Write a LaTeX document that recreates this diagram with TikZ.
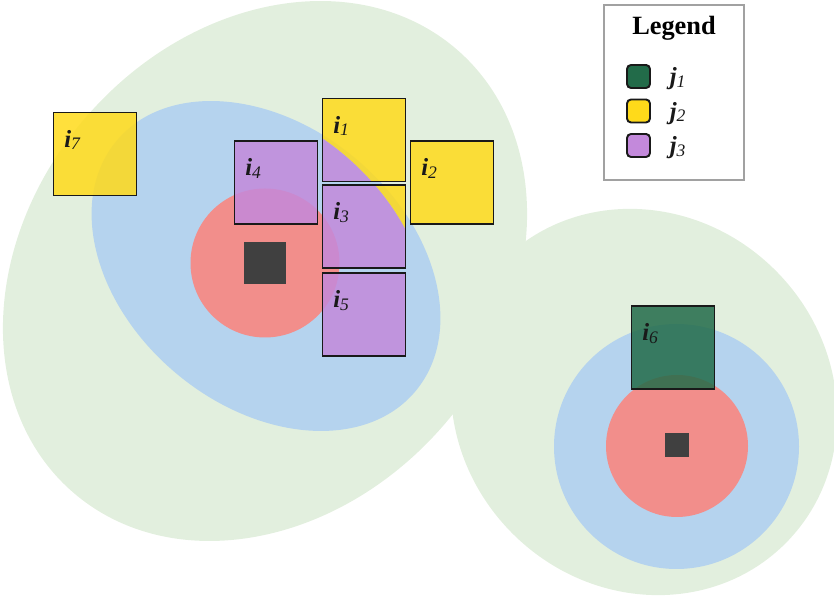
\documentclass[tikz,border=0pt]{standalone}
\usepackage{fontspec}
\setmainfont{Liberation Serif}
\usetikzlibrary{positioning}

\definecolor{zonegreen}{HTML}{E2EFDE}
\definecolor{zoneblue}{HTML}{B5D3EE}
\definecolor{zonered}{HTML}{F28E8B}
\definecolor{sitegray}{HTML}{404040}
\definecolor{jone}{HTML}{226B49}
\definecolor{jtwo}{HTML}{FFDA1A}
\definecolor{jthree}{HTML}{C389DB}

\newcommand{\itm}[1]{{\fontsize{14}{16}\selectfont\bfseries\itshape i}\raisebox{-1.2pt}{\fontsize{10}{12}\selectfont\itshape #1}}
\newcommand{\jcl}[1]{{\fontsize{14}{16}\selectfont\bfseries\itshape j}\raisebox{-1.2pt}{\fontsize{10}{12}\selectfont\itshape #1}}

\begin{document}
\begin{tikzpicture}[
    itembox/.style={rectangle, minimum size=1.66cm, inner sep=0pt, outer sep=0pt},
    boxline/.style={line width=1.1pt, draw=black!90},
    itemlabel/.style={anchor=base west, inner sep=0pt, text=black!90},
    swatch/.style={rectangle, rounded corners=0.08cm, minimum size=0.46cm, inner sep=0pt, draw=black!90, line width=1.1pt},
    site/.style={rectangle, inner sep=0pt, fill=sitegray}
]
    \useasboundingbox (0,0) rectangle (16.68,11.96);

    % Coverage zones
    \fill[zonegreen, rotate around={49:(5.30,6.54)}] (5.30,6.54) ellipse [x radius=5.86, y radius=4.72];
    \fill[zonegreen, rotate around={-45:(12.88,3.92)}] (12.88,3.92) ellipse [x radius=4.0, y radius=3.72];
    \fill[zoneblue, rotate around={-40:(5.32,6.64)}] (5.32,6.64) ellipse [x radius=3.90, y radius=2.80];
    \fill[zoneblue] (13.53,3.03) circle (2.45);
    \fill[zonered] (5.30,6.70) circle (1.49);
    \fill[zonered] (13.54,3.04) circle (1.42);

    % Sites
    \node[site, minimum size=0.83cm] (s1) at (5.30,6.70) {};
    \node[site, minimum size=0.49cm] (s2) at (13.54,3.06) {};

    % Items split between j2 and j3
    \node[itembox] (i1) at (7.28,9.16) {};
    \node[itembox] (i3) at (7.28,7.43) {};
    \node[itembox] (i4) at (5.52,8.31) {};
    \node[itembox] (i5) at (7.28,5.67) {};
    \begin{scope}
        \clip (i1.south west) rectangle (i1.north east)
              (i3.south west) rectangle (i3.north east)
              (i4.south west) rectangle (i4.north east)
              (i5.south west) rectangle (i5.north east);
        \fill[jtwo, fill opacity=.85, even odd rule, rotate around={-40:(5.08,6.72)}]
            (5.08,6.72) ellipse [x radius=3.90, y radius=2.80]
            (-2,-2) rectangle (14,14);
        \fill[jthree, fill opacity=.85, rotate around={-40:(5.08,6.72)}]
            (5.08,6.72) ellipse [x radius=3.90, y radius=2.80];
    \end{scope}
    \foreach \n in {1,3,4,5}
        \draw[boxline] (i\n.south west) rectangle (i\n.north east);

    % Other items
    \node[itembox, boxline, fill=jtwo, fill opacity=.85] (i2) at (9.04,8.31) {};
    \node[itembox, boxline, fill=jtwo, fill opacity=.85] (i7) at (1.90,8.88) {};
    \node[itembox, boxline, fill=jone, fill opacity=.85] (i6) at (13.46,5.01) {};

    % Item labels
    \foreach \n in {1,...,7}
        \node[itemlabel] (t\n) at ([shift={(0.21,-0.70)}]i\n.north west) {\itm{\n}};

    % Legend
    \node[rectangle, draw=black!37, line width=0.6pt, fill=white, minimum width=2.80cm, minimum height=3.50cm] (legend) at (13.48,10.11) {};
    \node[font=\fontsize{15}{18}\selectfont\bfseries] (title) at (13.48,11.40) {Legend};
    \foreach \k/\c/\y in {1/jone/10.43, 2/jtwo/9.74, 3/jthree/9.05} {
        \node[swatch, fill=\c] (key\k) at (12.77,\y) {};
        \node[itemlabel] (j\k) at ([shift={(0.62,-0.17)}]key\k.center) {\jcl{\k}};
    }
\end{tikzpicture}
\end{document}
